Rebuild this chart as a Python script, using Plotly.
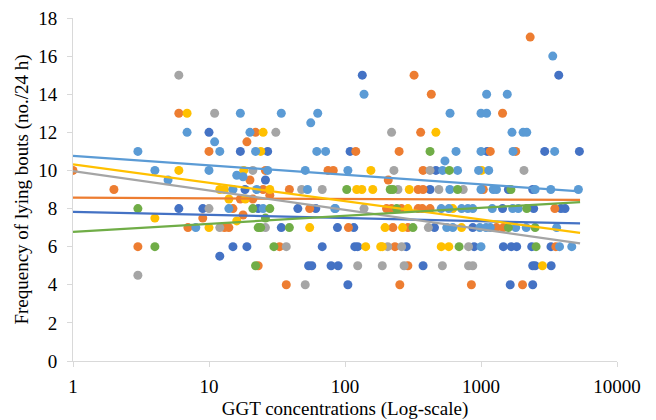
import plotly.graph_objects as go

# ---- data (GGT concentration, lying bouts per 24 h) ----
series_names = ["Series 1", "Series 2", "Series 3", "Series 4", "Series 5", "Series 6"]
series_colors = ["#4472C4", "#ED7D31", "#A5A5A5", "#FFC000", "#5B9BD5", "#70AD47"]

s1_x = [10, 17, 27, 26, 18.4, 6, 9, 23, 45, 61, 34, 88, 116, 15, 19, 68, 118, 124, 282, 12,
        54, 57, 79, 89, 375, 105, 134, 109, 1110, 2940, 5290, 466, 422, 1590, 2400, 1440, 2440,
        3870, 4150, 455, 870, 890, 1460, 1670, 1830, 2360, 3270, 2400, 2500, 3280, 1640, 2400, 3730]
s1_y = [12, 11, 11, 9.5, 9, 8, 8, 8, 8, 8, 7, 7, 7, 6, 6, 6, 6, 6, 6, 5.5,
        5, 5, 5, 5, 5, 4, 15, 11, 11, 11, 11, 10, 9, 9, 9, 8, 8,
        8, 8, 7, 7, 6, 6, 6, 6, 6, 6, 5, 5, 5, 4, 4, 15]

s2_x = [1, 2, 3, 6, 10, 19, 22, 26, 20, 25, 39, 17, 21, 28, 15, 55, 9, 17.8, 7, 13, 14, 33, 23, 37,
        75, 82, 208, 345, 375, 202, 220, 260, 345, 106, 225, 290, 233, 290, 253, 322, 360, 120,
        250, 2300, 431, 1440, 1170, 1800, 375, 1040, 370, 422, 3490, 1300, 1460, 3550, 850, 2020]
s2_y = [10, 9, 6, 13, 11, 11.5, 12, 10, 9.5, 9, 9, 8.5, 8.5, 8.7, 8, 8, 7.5, 7.66, 7, 7, 7, 6, 5, 4,
        10, 10, 9.5, 9, 9, 8, 8, 8, 8, 7, 7, 7, 6, 5, 4, 15, 12, 11,
        11, 17, 14, 13, 11, 11, 10, 9, 8, 8, 8, 7, 7, 6, 4, 4]

s3_x = [6, 11, 31, 21, 48, 68, 10, 12, 26, 37, 3, 51, 229, 138, 245, 206, 261, 124, 188, 272,
        220, 422, 2070, 490, 740, 410, 810, 520, 810, 870]
s3_y = [15, 13, 12, 10, 9, 9, 8, 7, 7, 6, 4.5, 4, 10, 8, 9, 6, 6, 5, 5, 5,
        12, 10, 10, 9, 9, 7, 6, 5, 5, 5]

s4_x = [6.9, 25, 24, 6, 18, 12, 13, 28, 14, 18.5, 4, 16, 10, 55, 155, 122, 133, 160, 297, 290,
        197, 265, 142, 183, 188, 466, 1010, 620, 720, 510, 580, 2830]
s4_y = [13, 12, 11, 10, 10, 9, 9, 9, 8.5, 8.5, 7.5, 7.35, 7, 7, 10, 9, 9, 9, 9, 8,
        7, 7, 6, 6, 6, 12, 10, 8, 7, 6, 6, 5]

s5_x = [3, 4, 5, 6.9, 10, 11, 12, 17, 20, 22, 16, 17.8, 15, 22.4, 14, 25, 8, 27, 34, 63, 56, 62,
        72, 51, 53, 138, 105, 85, 592, 1000, 1100, 1100, 1560, 3370, 1690, 2040, 2170, 655,
        1000, 1720, 3480, 543, 522, 673, 960, 1140, 590, 1000, 1230, 1300, 2500, 3260, 5200,
        510, 580, 720, 800, 870, 1210, 1710, 1880, 560, 620, 980, 1090, 1170, 1800, 2150,
        3600, 1000, 3780, 4650, 84]
s5_y = [11, 10, 9.5, 12, 10, 11.5, 11, 13, 12, 11, 9.75, 9.67, 9, 9, 8, 8, 7, 10, 13, 13, 12.5, 11,
        11, 10, 9, 14, 10, 8, 13, 13, 13, 14, 14, 16, 12, 12, 12, 11,
        11, 11, 11, 10.5, 10, 10, 10, 10, 9, 9, 9, 9, 9, 9, 9,
        8, 8, 8, 8, 8, 8, 8, 8, 7, 7, 7, 7, 7, 7, 7,
        7, 6, 6, 6, 8]

s6_x = [3, 4, 21, 28, 26, 23, 24, 39, 30, 22, 103, 215, 225, 240, 316, 422, 585, 673, 1660, 2170,
        1590, 2500, 690, 2540]
s6_y = [8, 6, 8, 8, 7.5, 7, 7, 7, 6, 5, 9, 9, 9, 8, 7, 11, 10, 9, 9, 8,
        7, 7, 6, 6]

series_x = [s1_x, s2_x, s3_x, s4_x, s5_x, s6_x]
series_y = [s1_y, s2_y, s3_y, s4_y, s5_y, s6_y]

# logarithmic trendlines: value at the first and last GGT value of the data span
trend_x = [1, 5350]
trend_start = [7.83, 8.57, 9.97, 10.32, 10.77, 6.78]
trend_end = [7.22, 8.45, 6.17, 6.72, 8.90, 8.34]

x_tick_vals = [1, 10, 100, 1000, 10000]
x_tick_text = ["1", "10", "100", "1000", "10000"]
y_tick_vals = [0, 2, 4, 6, 8, 10, 12, 14, 16, 18]

fig = go.Figure()
for name, color, xs, ys in zip(series_names, series_colors, series_x, series_y):
    fig.add_trace(go.Scatter(x=xs, y=ys, mode="markers", name=name,
                             marker=dict(color=color, size=9, line=dict(width=0)),
                             showlegend=False))
for name, color, a, b in zip(series_names, series_colors, trend_start, trend_end):
    fig.add_trace(go.Scatter(x=trend_x, y=[a, b], mode="lines", name=name + " trend",
                             line=dict(color=color, width=2.25), showlegend=False))

font = dict(family="Liberation Serif, Times New Roman, serif", size=19, color="#000000")
fig.update_layout(
    width=656, height=420,
    margin=dict(l=73, r=39, t=18, b=59),
    paper_bgcolor="white", plot_bgcolor="white",
    font=font,
    xaxis=dict(type="log", range=[0, 4], tickvals=x_tick_vals, ticktext=x_tick_text,
               showgrid=False, zeroline=False, showline=True, linecolor="#D9D9D9", linewidth=1,
               ticks="outside", ticklen=5, tickcolor="#D9D9D9", ticklabelstandoff=3,
               title=dict(text="GGT concentrations (Log-scale)", font=font, standoff=7),
               tickfont=font, automargin=False),
    yaxis=dict(range=[0, 18], tickvals=y_tick_vals, showgrid=False, zeroline=False,
               showline=True, linecolor="#D9D9D9", linewidth=1,
               ticks="outside", ticklen=5, tickcolor="#D9D9D9", ticklabelstandoff=6,
               title=dict(text="Frequency of lying bouts (no./24 h)", font=font, standoff=4),
               tickfont=font, automargin=False),
)
fig.write_html("out.html", config={"displayModeBar": False},
               post_script="document.body.style.margin='0';document.body.style.overflow='hidden';")
